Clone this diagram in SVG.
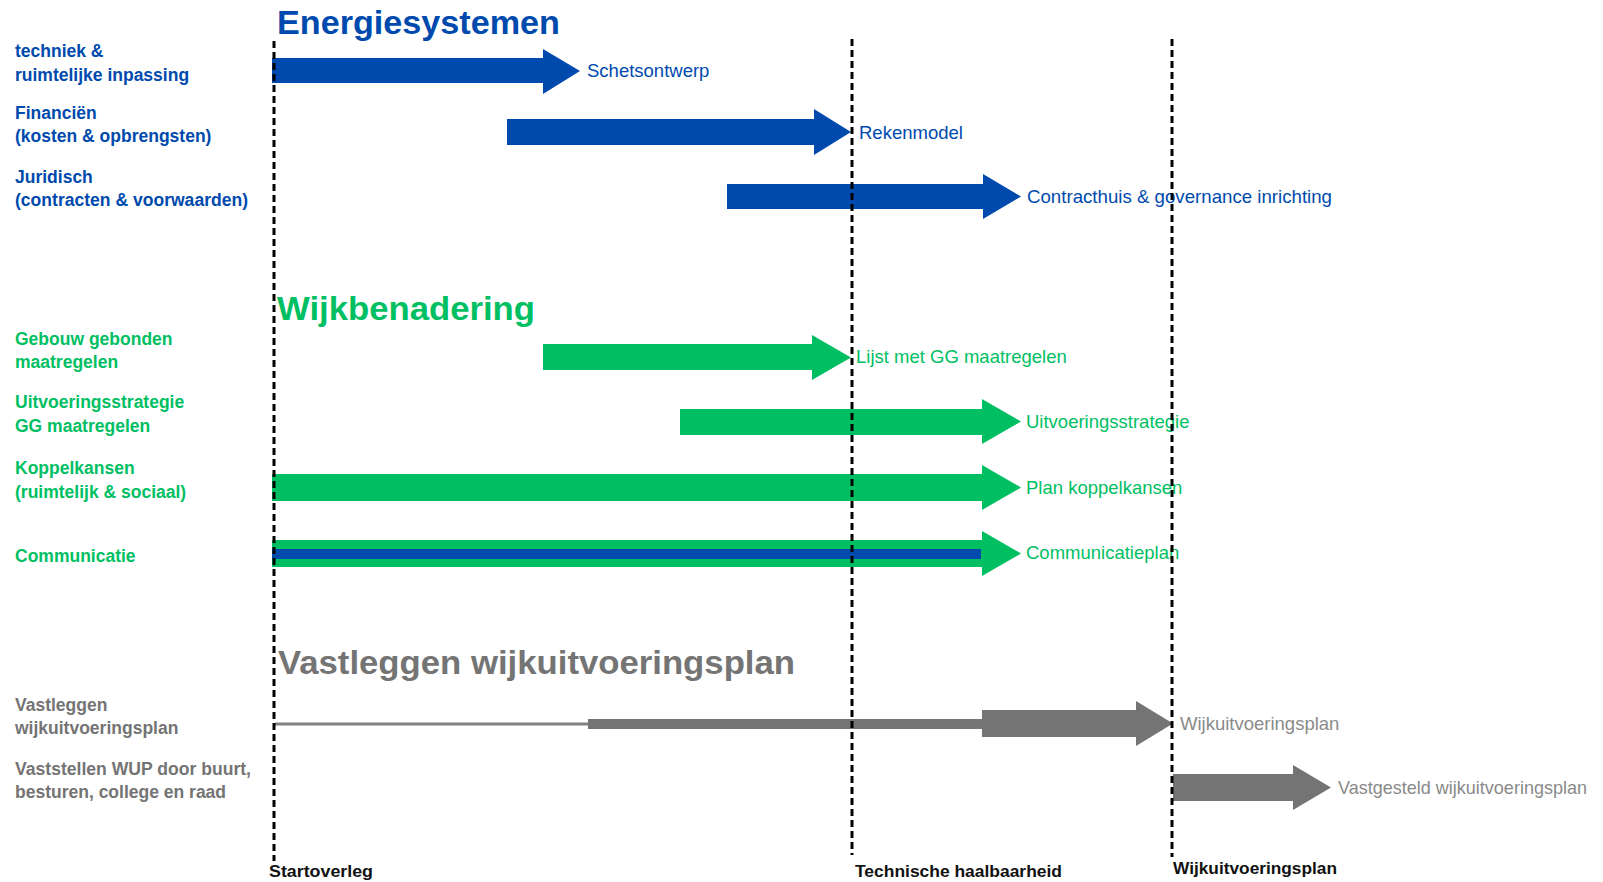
<svg xmlns="http://www.w3.org/2000/svg" width="1603" height="882" viewBox="0 0 1603 882">
<style>
text{font-family:"Liberation Sans",Arial,sans-serif}
.lbl{font-size:17.5px;font-weight:bold}
.del{font-size:18.5px}
.ttl{font-size:34px;font-weight:bold}
.ms{font-size:16.5px;font-weight:bold;fill:#111}
.b{fill:#004AAD}
.g{fill:#00BF63}
.gr{fill:#747474}
.grl{fill:#8a8a8a}
.dash{stroke:#000;stroke-width:3;stroke-dasharray:7 4;fill:none}
</style>
<rect width="1603" height="882" fill="#fff"/>

<g id="title-energiesystemen"><text class="ttl b" x="277" y="34" textLength="283" lengthAdjust="spacingAndGlyphs">Energiesystemen</text></g>
<g id="title-wijkbenadering"><text class="ttl g" x="277" y="320" textLength="258" lengthAdjust="spacingAndGlyphs">Wijkbenadering</text></g>
<g id="title-vastleggen"><text class="ttl gr" x="278" y="674" textLength="517" lengthAdjust="spacingAndGlyphs">Vastleggen wijkuitvoeringsplan</text></g>

<g id="row-techniek">
<text class="lbl b" x="15" y="57">techniek &amp;</text>
<text class="lbl b" x="15" y="81">ruimtelijke inpassing</text>
<text class="del b" x="587" y="77">Schetsontwerp</text>
</g>
<g id="row-financien">
<text class="lbl b" x="15" y="119">Financiën</text>
<text class="lbl b" x="15" y="142">(kosten &amp; opbrengsten)</text>
<text class="del b" x="859" y="138.5">Rekenmodel</text>
</g>
<g id="row-juridisch">
<text class="lbl b" x="15" y="183">Juridisch</text>
<text class="lbl b" x="15" y="206" textLength="233" lengthAdjust="spacingAndGlyphs">(contracten &amp; voorwaarden)</text>
<text class="del b" x="1027" y="202.5" textLength="305" lengthAdjust="spacingAndGlyphs">Contracthuis &amp; governance inrichting</text>
</g>
<g id="row-gebouw">
<text class="lbl g" x="15" y="345">Gebouw gebonden</text>
<text class="lbl g" x="15" y="368">maatregelen</text>
<text class="del g" x="856" y="363">Lijst met GG maatregelen</text>
</g>
<g id="row-uitvoering">
<text class="lbl g" x="15" y="408">Uitvoeringsstrategie</text>
<text class="lbl g" x="15" y="432">GG maatregelen</text>
<text class="del g" x="1026" y="428">Uitvoeringsstrategie</text>
</g>
<g id="row-koppel">
<text class="lbl g" x="15" y="474">Koppelkansen</text>
<text class="lbl g" x="15" y="498">(ruimtelijk &amp; sociaal)</text>
<text class="del g" x="1026" y="494">Plan koppelkansen</text>
</g>
<g id="row-communicatie">
<text class="lbl g" x="15" y="562">Communicatie</text>
<text class="del g" x="1026" y="559">Communicatieplan</text>
</g>
<g id="row-vastleggen">
<text class="lbl gr" x="15" y="711">Vastleggen</text>
<text class="lbl gr" x="15" y="734">wijkuitvoeringsplan</text>
<text class="del grl" x="1180" y="730">Wijkuitvoeringsplan</text>
</g>
<g id="row-vaststellen">
<text class="lbl gr" x="15" y="775" textLength="236" lengthAdjust="spacingAndGlyphs">Vaststellen WUP door buurt,</text>
<text class="lbl gr" x="15" y="798">besturen, college en raad</text>
<text class="del grl" x="1338" y="794" textLength="249" lengthAdjust="spacingAndGlyphs">Vastgesteld wijkuitvoeringsplan</text>
</g>

<g id="connectors">
<polygon class="b" points="272,58 543,58 543,49 580,71 543,94 543,83 272,83"/>
<polygon class="b" points="507,119 814,119 814,109 851,132 814,155 814,145 507,145"/>
<polygon class="b" points="727,184 983,184 983,174 1021,196.5 983,219 983,209 727,209"/>
<polygon class="g" points="543,344 812,344 812,335 851,357.5 812,380 812,370 543,370"/>
<polygon class="g" points="680,409 982,409 982,399 1021,421.5 982,444 982,435 680,435"/>
<polygon class="g" points="272,474 982,474 982,465 1021,487.5 982,510 982,501 272,501"/>
<polygon class="g" points="272,540 982,540 982,531 1021,553.5 982,576 982,567 272,567"/>
<rect class="b" x="272" y="549" width="709" height="10"/>
<rect x="275" y="722.5" width="314" height="3" fill="#808080"/>
<polygon class="gr" points="588,719 982,719 982,710 1136,710 1136,701 1173,723.5 1136,746 1136,737 982,737 982,729 588,729"/>
<polygon class="gr" points="1173,774 1293,774 1293,765 1331,787.5 1293,810 1293,801 1173,801"/>
</g>

<g id="milestones">
<line class="dash" x1="274" y1="41" x2="274" y2="861"/>
<line class="dash" x1="852" y1="39" x2="852" y2="855"/>
<line class="dash" x1="1172" y1="39" x2="1172" y2="857"/>
<text class="ms" x="269" y="877" textLength="104" lengthAdjust="spacingAndGlyphs">Startoverleg</text>
<text class="ms" x="855" y="877" textLength="207" lengthAdjust="spacingAndGlyphs">Technische haalbaarheid</text>
<text class="ms" x="1173" y="874" textLength="164" lengthAdjust="spacingAndGlyphs">Wijkuitvoeringsplan</text>
</g>
</svg>
